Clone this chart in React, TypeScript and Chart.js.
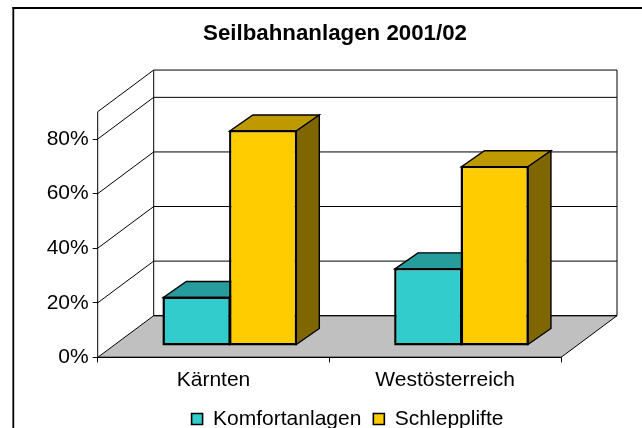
import React, { useEffect, useRef } from "react";
import { Chart, registerables } from "chart.js";

Chart.register(...registerables);

const categories = ["Kärnten", "Westösterreich"];
const komfortanlagen = [17.4, 27.9];
const schlepplifte = [78.4, 65.3];
const yTicks = [0, 20, 40, 60, 80];

const FONT = '"Liberation Sans", Arial, sans-serif';
const DEPTH_X = 56;
const DEPTH_Y = 41.7;
const BAR_SHIFT_X = 16.3;
const BAR_SHIFT_Y = -12.4;
const BAR_DX = 23;
const BAR_DY = 16;
const TITLE_SHIFT = 54.5;
const LEGEND_SHIFT_X = 67;
const LEGEND_SHIFT_Y = 11.5;

function poly(ctx: CanvasRenderingContext2D, pts: number[][], fill: string | null, stroke: string | null, lw = 1) {
  ctx.beginPath();
  pts.forEach((p, i) => (i ? ctx.lineTo(p[0], p[1]) : ctx.moveTo(p[0], p[1])));
  ctx.closePath();
  if (fill) {
    ctx.fillStyle = fill;
    ctx.fill();
  }
  if (stroke) {
    ctx.strokeStyle = stroke;
    ctx.lineWidth = lw;
    ctx.stroke();
  }
}

function line(ctx: CanvasRenderingContext2D, x1: number, y1: number, x2: number, y2: number, color = "#000", lw = 1) {
  ctx.beginPath();
  ctx.moveTo(x1, y1);
  ctx.lineTo(x2, y2);
  ctx.strokeStyle = color;
  ctx.lineWidth = lw;
  ctx.stroke();
}

const barProps = (el: any) => el.getProps(["x", "y", "base", "width"], true);

const frame3d = {
  id: "frame3d",
  beforeDraw(chart: any) {
    const { ctx, width, height } = chart;
    ctx.save();
    ctx.fillStyle = "#fff";
    ctx.fillRect(0, 0, width, height);
    line(ctx, 12.5, 8, width, 8, "#000", 1.8);
    line(ctx, 13.3, 7, 13.3, height, "#000", 1.8);
    ctx.restore();
  },
  beforeDatasetsDraw(chart: any) {
    const { ctx, chartArea: a, scales } = chart;
    const y = scales.y;
    ctx.save();
    const b = y.getPixelForValue(0);
    const t = y.getPixelForValue(y.max);
    const l = a.left;
    const r = a.right;
    poly(ctx, [[l, b], [r, b], [r + DEPTH_X, b - DEPTH_Y], [l + DEPTH_X, b - DEPTH_Y]], "#C0C0C0", "#000", 1);
    poly(ctx, [[l + DEPTH_X, b - DEPTH_Y], [r + DEPTH_X, b - DEPTH_Y], [r + DEPTH_X, t - DEPTH_Y], [l + DEPTH_X, t - DEPTH_Y]], null, "#000", 1);
    line(ctx, l, t, l + DEPTH_X, t - DEPTH_Y);
    line(ctx, l, t, l, b);
    for (const v of yTicks) {
      const py = y.getPixelForValue(v);
      if (v > 0) {
        line(ctx, l, py, l + DEPTH_X, py - DEPTH_Y);
        line(ctx, l + DEPTH_X, py - DEPTH_Y, r + DEPTH_X, py - DEPTH_Y);
      }
    }
    line(ctx, l, b, r, b, "#000", 1.2);
    ctx.translate(BAR_SHIFT_X, BAR_SHIFT_Y);
    const tops = ["#269C9C", "#BF9900"];
    const sides = ["#1A6A6A", "#806600"];
    [0, 1].forEach((c) => {
      [0, 1].forEach((d) => {
        const p = barProps(chart.getDatasetMeta(d).data[c]);
        const x0 = p.x - p.width / 2;
        const x1 = p.x + p.width / 2;
        poly(ctx, [[x0, p.y], [x1, p.y], [x1 + BAR_DX, p.y - BAR_DY], [x0 + BAR_DX, p.y - BAR_DY]], tops[d], "#000", 1.4);
        poly(ctx, [[x1, p.y], [x1 + BAR_DX, p.y - BAR_DY], [x1 + BAR_DX, p.base - BAR_DY], [x1, p.base]], sides[d], "#000", 1.4);
      });
    });
  },
  afterDatasetsDraw(chart: any) {
    const { ctx } = chart;
    [0, 1].forEach((d) => {
      chart.getDatasetMeta(d).data.forEach((el: any) => {
        const p = barProps(el);
        const x0 = p.x - p.width / 2;
        const x1 = p.x + p.width / 2;
        poly(ctx, [[x0, p.y], [x1, p.y], [x1, p.base], [x0, p.base]], null, "#000", 1.4);
      });
    });
    ctx.restore();
  },
  afterLayout(chart: any) {
    chart.titleBlock.left += TITLE_SHIFT;
    chart.titleBlock.right += TITLE_SHIFT;
    chart.legend.left += LEGEND_SHIFT_X;
    chart.legend.right += LEGEND_SHIFT_X;
    chart.legend.top += LEGEND_SHIFT_Y;
    chart.legend.bottom += LEGEND_SHIFT_Y;
    chart.scales.x.bottom += 20;
  },
};

export default function App() {
  const ref = useRef<HTMLCanvasElement>(null);
  useEffect(() => {
    const chart = new Chart(ref.current!, {
      type: "bar",
      data: {
        labels: categories,
        datasets: [
          { label: "Komfortanlagen", data: komfortanlagen, backgroundColor: "#33CCCC", borderColor: "#000", borderWidth: 1.6, borderSkipped: false, clip: false },
          { label: "Schlepplifte", data: schlepplifte, backgroundColor: "#FFCC00", borderColor: "#000", borderWidth: 1.6, borderSkipped: false, clip: false },
        ],
      },
      plugins: [frame3d],
      options: {
        animation: false,
        responsive: false,
        datasets: { bar: { barPercentage: 1, categoryPercentage: 0.574 } },
        layout: { padding: { left: 0, right: 81, top: 20.8, bottom: 0 } },
        scales: {
          x: {
            afterFit: (s: any) => {
              s.height = 27.6;
            },
            grid: { display: true, drawOnChartArea: false, drawTicks: true, tickLength: 5, tickColor: "#000" },
            border: { display: false },
            ticks: { color: "#000", font: { family: FONT, size: 21 }, padding: 5, maxRotation: 0 },
          },
          y: {
            min: 0,
            max: 90,
            afterBuildTicks: (s: any) => {
              s.ticks = yTicks.map((value) => ({ value }));
            },
            afterFit: (s: any) => {
              s.width = 97.7;
            },
            grid: { display: true, drawOnChartArea: false, drawTicks: true, tickLength: 5, tickColor: "#000" },
            border: { display: false },
            ticks: { color: "#000", font: { family: FONT, size: 21 }, padding: 4, callback: (v: any) => v + "%" },
          },
        },
        plugins: {
          tooltip: { enabled: false },
          title: {
            display: true,
            text: "Seilbahnanlagen 2001/02",
            color: "#000",
            font: { family: FONT, size: 22.3, weight: "bold" },
            padding: { top: 0, bottom: 64.2 },
          },
          legend: {
            display: true,
            position: "bottom",
            labels: { color: "#000", font: { family: FONT, size: 21 }, boxWidth: 11, boxHeight: 11, padding: 12 },
          },
        },
      },
    } as any);
    return () => chart.destroy();
  }, []);
  return <canvas ref={ref} width={642} height={428} style={{ position: "fixed", left: 0, top: 0, display: "block" }} />;
}
